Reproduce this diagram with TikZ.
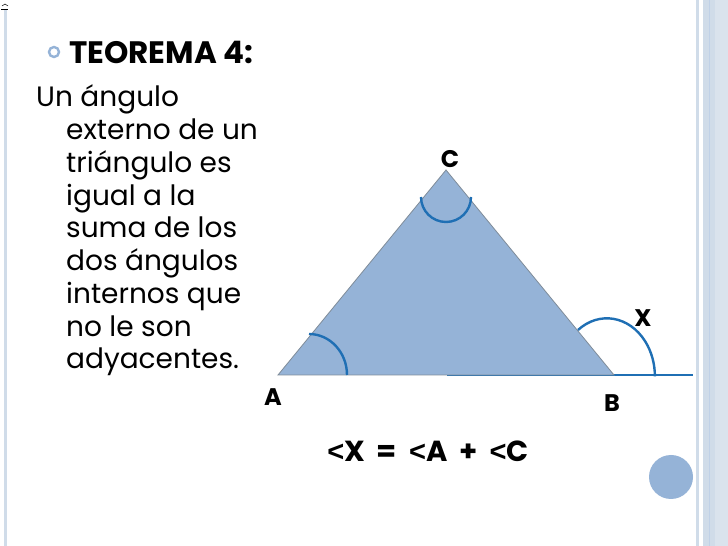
\documentclass[tikz,border=0pt]{standalone}
\usepackage{fontspec}
\setmainfont{Poppins}
\newfontfamily\lessfont{Liberation Sans}
\usetikzlibrary{calc}

\definecolor{slideblue}{HTML}{95B3D7}
\definecolor{arcblue}{HTML}{1F6FB4}
\definecolor{edgegray}{HTML}{7F8C99}
\definecolor{panelblue}{HTML}{D0DCE9}

\newcommand{\angsign}{{\lessfont\bfseries<}}
\newcommand{\gapsp}{\hspace{12pt}}

\tikzset{
  bodyline/.style={anchor=base west,inner sep=0pt,font=\fontsize{28}{28}\selectfont},
  vertexlabel/.style={inner sep=0pt,font=\fontsize{24}{24}\selectfont\bfseries},
  anglearc/.style={arcblue,line width=2.4pt}
}

\begin{document}
\begin{tikzpicture}[x=1pt,y=1pt]
\useasboundingbox (0,0) rectangle (728,546);
\fill[white] (0,0) rectangle (728,546);
% frame of the slide
\fill[panelblue] (4,0) rectangle (7,536);
\draw[black,line width=0.6pt] (1,537) -- (8,537);
\draw[black,line width=0.5pt] (2,540) -- (5,542) -- (8,540);
\fill[panelblue] (696,0) rectangle (699,546);
\fill[panelblue] (703,0) rectangle (728,546);
\fill[slideblue!60] (709,0) rectangle (710,546);
\fill[panelblue!80] (715,0) rectangle (728,546);
\fill[slideblue] (671,69) circle (22);
% title and text
\draw[slideblue,line width=2.4pt] (54,494) circle (5);
\node[anchor=base west,inner sep=0pt,font=\fontsize{31}{31}\selectfont\bfseries] (title) at (69,482) {TEOREMA 4:};
\node[bodyline] (l1) at (36,439) {Un ángulo};
\node[bodyline] (l2) at (66,406.25) {externo de un};
\node[bodyline] (l3) at (66,373.5) {triángulo es};
\node[bodyline] (l4) at (66,340.75) {igual a la};
\node[bodyline] (l5) at (66,308) {suma de los};
\node[bodyline] (l6) at (66,275.25) {dos ángulos};
\node[bodyline] (l7) at (66,242.5) {internos que};
\node[bodyline] (l8) at (66,209.75) {no le son};
\node[bodyline] (l9) at (66,177) {adyacentes.};
% triangle
\coordinate (A) at (278,171);
\coordinate (B) at (614,171);
\coordinate (C) at (446,376);
\draw[arcblue,line width=1.4pt] (447,171) -- (693,171);
\filldraw[fill=slideblue,draw=edgegray,line width=0.8pt] (A) -- (B) -- (C) -- cycle;
% angles
\draw[anglearc] (309,212) arc[start angle=90,end angle=0,x radius=38,y radius=41];
\draw[anglearc] (421,349) arc[start angle=180,end angle=360,radius=25];
\draw[anglearc] (578,216) arc[start angle=127,end angle=0,x radius=48,y radius=58];
% labels
\node[vertexlabel] (lA) at (273,149) {A};
\node[vertexlabel] (lB) at (612,143) {B};
\node[vertexlabel] (lC) at (450,387) {C};
\node[vertexlabel] (lX) at (643,228) {X};
\node[anchor=base,inner sep=0pt,font=\fontsize{29}{29}\selectfont\bfseries] (rule) at (428,84)
  {\angsign X\gapsp=\gapsp\angsign A\gapsp+\gapsp\angsign C};
\end{tikzpicture}
\end{document}
